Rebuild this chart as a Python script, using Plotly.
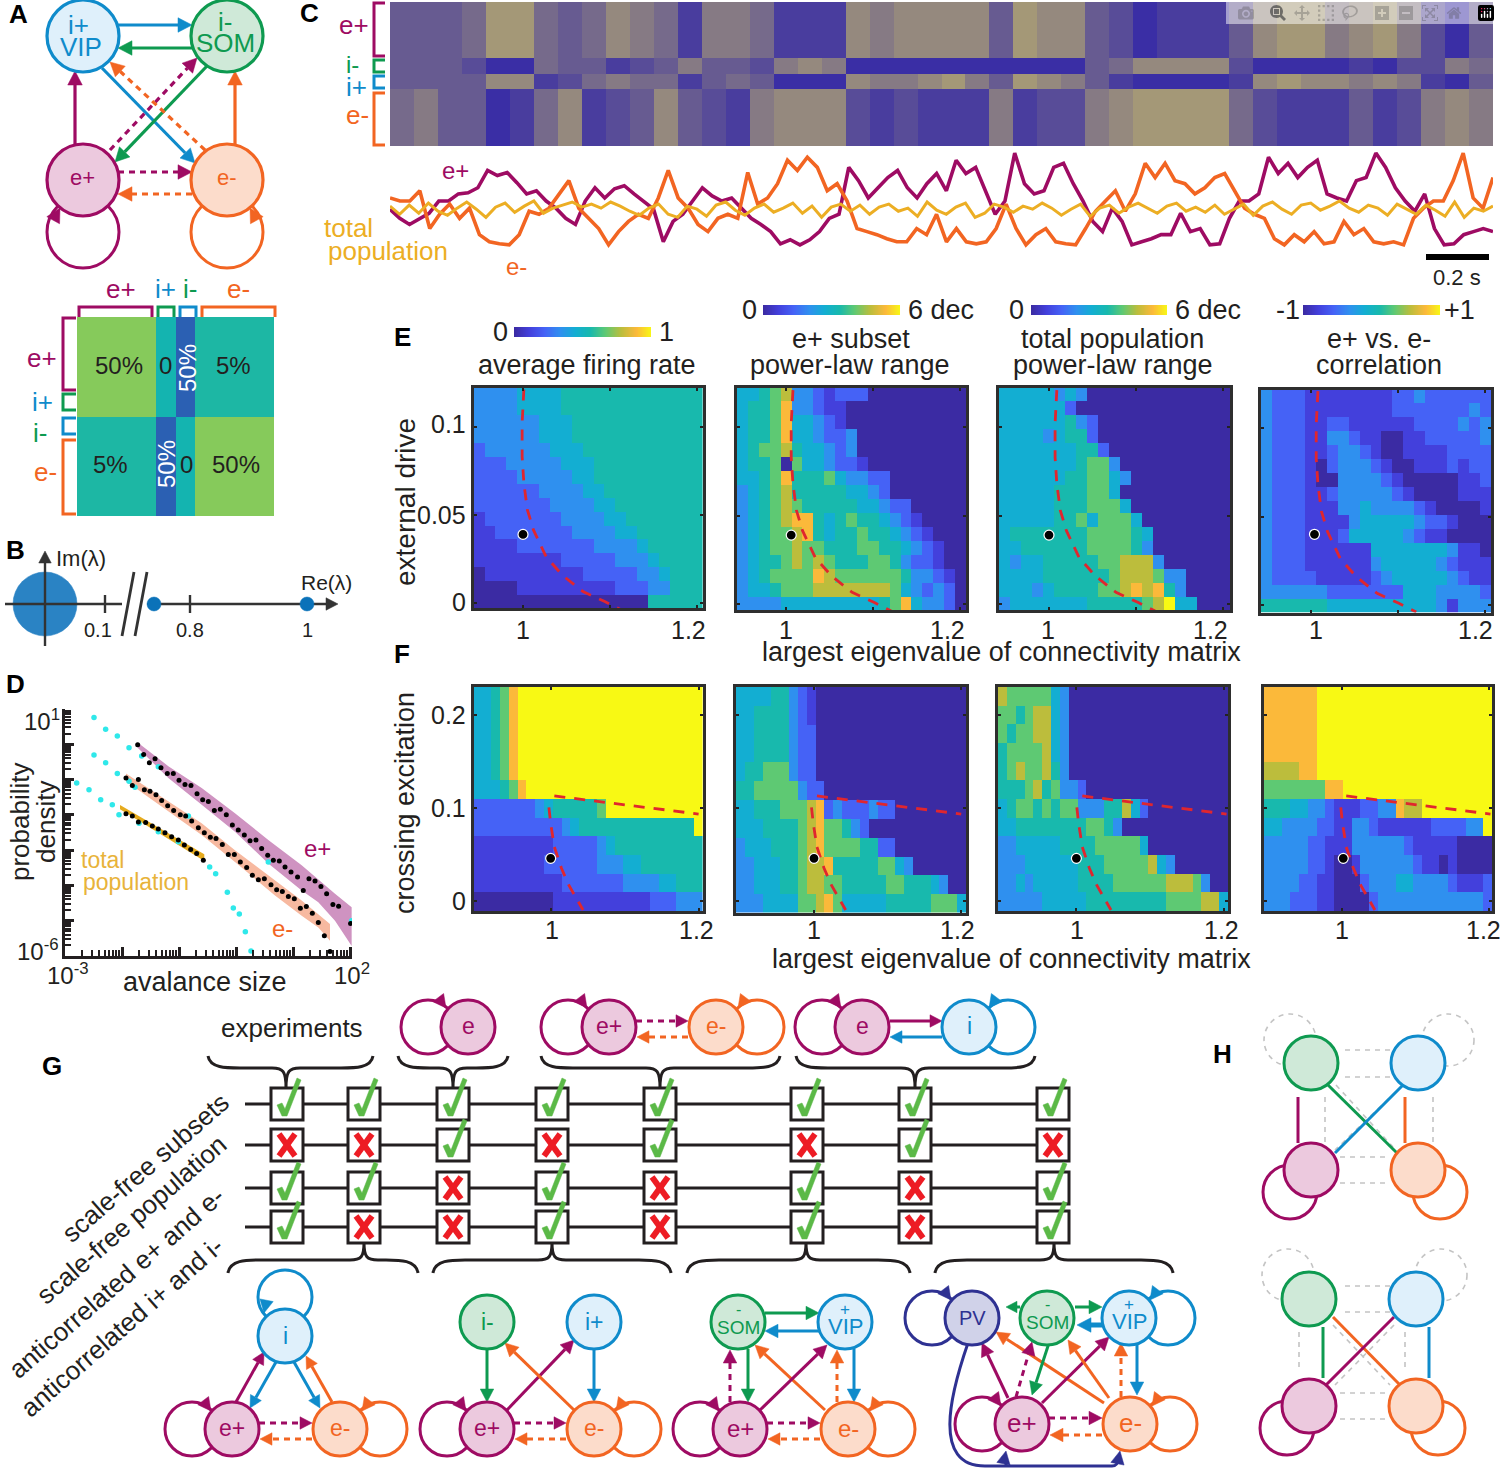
import numpy as np
import plotly.graph_objects as go

FONT = "Liberation Sans"
BLACK = "#231f20"
PURPLE, PURPLE_F = "#9e0b63", "#ecc9de"
ORANGE, ORANGE_F = "#f26522", "#fcdccb"
BLUE, BLUE_F = "#0f8bcb", "#dff0fb"
GREEN, GREEN_F = "#0e9a50", "#cfe9d8"
NAVY, NAVY_F = "#2e3192", "#d0d2e9"
GOLD = "#ecae24"
GREY = "#c4c4c4"

# one character per cell, levels 0-9 of PARULA, top row first
PARULA = ["#3b2ba3", "#4340dc", "#4562f6", "#2f90ef", "#13aed2",
          "#18b9ad", "#5ec973", "#bcbd3c", "#fbb93a", "#f8f914"]
CBAR_LEVELS = [0, 1, 2, 3, 4, 5, 6, 7, 8, 9]

E_RATE = ["33334444555", "33334444555", "333333444555", "333333444555",
          "2333333444555", "22233333444555", "222233333445", "2222223333445",
          "22222223333445", "12222222333344555", "11222222233334455",
          "1111222222233334555", "1111111122222333455", "0111111111222223345",
          "00001111111112223355", "0000000000000000555"]
E_SUBSET = ["445673321222", "45568332110", "4556844321", "45568443223",
            "45667544323", "455606443221", "44568555643322", "34567555554432",
            "3456765555544322", "34567885456554321", "345667854556554321",
            "3456676655566554321", "3455676765556653221", "345666687666666533210",
            "344566677777776432320", "333344444444456843320"]
E_TOTAL = ["44444343", "4444442", "444444532", "444434552", "4444444552",
           "44444445663", "444444556643", "44444555664", "444445556664",
           "4444455646664", "45555555666654", "44555555666653",
           "434455555667773", "44445555556777633", "44434555566787853",
           "344444445555567944"]
E_CORR = ["322211111111223222222", "322211111111222222232", "322211221111112222323",
          "322211332110011222223", "322211233210011112222", "322210233321001112122",
          "322210033332100000112", "322211233333210000111", "322211133433332100001",
          "322211113444443221000", "322211124444432110000", "322211111144444443110",
          "322211111134444432111", "322221111123444443211", "333333222222244433332",
          "555555444444444431333"]

F_RATE = ["44568", "44568", "44568", "44568", "44568", "444568",
          "222222234555556", "22222222223455555555555559",
          "11111111122222345555555555", "11111111222222333445555555",
          "11111111112222222333344555", "00000000011111111111222333"]
F_SUBSET = ["444455321", "445555321", "445555322", "445555322", "455666322",
            "5566666322", "445556667823222322", "444555567866532",
            "344455567866665522", "33444556778555556643",
            "334445567766555556655543", "33344446678644444555556664"]
F_TOTAL = ["76666643", "66567743", "65667743", "56666743", "56766753",
           "5556756332", "45665656633355742", "44555555556653",
           "33444445555666664", "33344444455566666743",
           "334344444555566666677763", "33333444445555555556666774"]
F_CORR = ["8888889", "8888889", "8888889", "8888889", "7777889", "666666688",
          "55544332111223387799999999", "44333322113321111112222339",
          "33333221113333332111110000", "33333221001333333211010000",
          "33332211000233344333321112", "33322211000023333333333332"]

# critical-curve samples (eigenvalue, drive) and the marked operating point
E_CURVE_X = [1.001, 0.999, 0.999, 1.001, 1.005, 1.012, 1.0265, 1.045, 1.069, 1.094, 1.114]
E_CURVE_Y = [0.121, 0.102, 0.083, 0.068, 0.053, 0.0415, 0.0264, 0.016, 0.0066, 0.001, -0.004]
E_DOT = [(1.0, 0.039), (1.006, 0.039), (1.0, 0.039), (1.004, 0.04)]
E_SHIFT = [0, 0.007, 0.008, 0.007]
F_LOW_X = [0.9966, 0.999, 1.004, 1.0137, 1.0235, 1.043]
F_LOW_Y = [0.1007, 0.0835, 0.058, 0.035, 0.017, -0.01]
F_UP_X = [1.004, 1.2]
F_UP_Y = [0.113, 0.0935]
F_DOT = [(0.999, 0.0457), (1.0, 0.0457), (1.0, 0.0457), (1.002, 0.0457)]
F_SHIFT = [0, 0.0, 0.004, 0.002]

# connection-matrix blocks in percent, negative marks the inhibitory strip
MATRIX = [[50, 0, -50, 5], [5, -50, 0, 50]]
MATRIX_EDGES = [0, 40, 50, 60, 100]

# raster density per 24 px time bin, 0 (silent) to 9
RASTER_EP = [3,3,3,4,7,7,4,3,4,6,5,4,1,5,5,4,1,1,1,6,5,6,6,6,6,3,7,6,6,3,2,0,1,1,1,3,6,7,7,5,6,7,5,2,0,3]
RASTER_IM = [3,3,3,2,0,0,4,3,3,1,2,3,5,3,3,2,5,6,5,0,0,0,0,0,0,0,0,0,0,3,4,6,6,6,6,2,0,0,0,0,1,0,2,2,5,4]
RASTER_IP = [3,3,3,3,6,6,1,2,4,5,4,4,1,3,4,3,0,0,0,6,5,5,6,7,5,3,7,6,5,3,1,0,0,0,0,1,6,7,6,6,5,6,5,1,0,3]
RASTER_EM = [4,5,3,3,0,1,4,6,1,2,3,6,3,2,1,5,6,6,6,2,1,2,1,1,1,5,1,2,2,5,6,7,7,7,7,4,2,1,1,1,3,1,2,5,6,5]
RASTER_EDGES = [0, 56, 72, 87, 144]

TRACE_EP = [2,-7,-13,-7,-2,10,10,17,18,23,40,35,38,28,17,20,10,3,-7,-13,10,23,13,22,25,17,10,2,-30,-10,-3,10,23,15,10,13,3,-7,-13,-20,-32,-28,-33,-28,-20,-7,-3,43,30,13,23,33,
            40,23,13,27,37,20,50,37,43,20,-3,10,57,27,17,20,43,47,27,10,-10,-20,3,-10,-33,-30,-27,-23,-23,-2,-20,-17,-33,-32,-7,10,10,17,53,37,47,33,43,50,17,13,10,30,33,57,43,23,10,0,17,-17,-33,-32,-23,-20,-17,-20]
TRACE_EM = [13,10,10,20,-17,-3,7,-7,3,-23,-30,-32,-33,-23,0,-3,3,17,30,3,-7,-17,-33,-20,-10,-3,-7,13,40,13,3,-13,-20,-7,-3,-7,38,7,13,27,50,40,53,43,20,27,10,-17,-20,-23,-27,-30,
            -30,-17,-23,-3,-30,-17,-30,-32,-30,-17,7,-17,-33,-23,-17,-30,-32,-33,-17,0,10,20,0,17,47,33,47,30,27,17,23,33,37,20,3,-3,-7,-27,-33,-23,-30,-20,-32,-30,-10,-23,-17,-30,-32,-30,-33,-7,3,10,10,30,57,13,3,33]
TRACE_TOTAL = [5,-3,6,-2,8,0,-4,3,9,2,-6,4,8,-1,5,10,-2,3,6,9,4,7,3,9,5,0,-4,3,7,-3,-6,5,2,-5,6,9,1,-4,3,7,-1,3,8,-2,5,-6,4,7,0,6,-3,4,
               7,0,3,-5,9,1,-3,4,8,-6,-2,7,4,-1,5,2,8,3,-4,2,7,-5,3,6,-2,4,8,3,-2,5,8,0,4,-1,6,-3,2,7,-4,5,9,2,-3,6,8,1,5,10,3,-1,6,3,-4,7,2,-3,6,1,-5,9,-6,3,0,5]

# log10 coordinates of the avalanche distributions
EP_X = [-1.725,-1.62,-1.52,-1.42,-1.316,-1.205,-1.10,-1.0,-.895,-.79,-.684,-.585,-.485,-.38,-.275,-.17,-.064,.04,.146,.246,.35,.45,.556,.655,.76,.86,.965,1.08,1.18,1.28,1.386,1.49,1.59,1.70,1.80,2.01]
EP_Y = [-.01,-.286,-.524,-.41,-.667,-.829,-.829,-1.019,-1.143,-1.171,-1.4,-1.571,-1.619,-1.876,-1.838,-2.0,-2.286,-2.429,-2.571,-2.733,-2.714,-2.952,-3.143,-3.286,-3.305,-3.476,-3.619,-3.762,-4.143,-3.81,-3.876,-4.029,-4.238,-4.543,-4.59,-5.076]
EM_X = [-1.93,-1.819,-1.713,-1.608,-1.509,-1.404,-1.304,-1.199,-1.094,-.977,-.883,-.778,-.661,-.556,-.45,-.351,-.24,-.135,-.029,.076,.187,.287,.392,.497,.614,.713,.813,.918,1.023,1.129,1.234,1.339,1.444,1.55,1.649]
EM_Y = [-.952,-1.171,-1.0,-1.286,-1.333,-1.429,-1.59,-1.743,-1.876,-2.0,-2.029,-2.171,-2.362,-2.505,-2.638,-2.667,-2.838,-3.124,-3.124,-3.333,-3.495,-3.714,-3.838,-3.81,-3.981,-4.124,-4.171,-4.314,-4.381,-4.648,-4.6,-4.79,-5.048,-5.429,-5.876]
TOT_X = [-1.93,-1.819,-1.713,-1.585,-1.468,-1.363,-1.246,-1.129,-1.012,-.906,-.795,-.69,-.573]
TOT_Y = [-1.971,-2.029,-2.2,-2.219,-2.314,-2.4,-2.505,-2.619,-2.714,-2.857,-2.981,-3.095,-3.286]
EP_BAND_X = [-1.725,-1.187,-.602,-.018,.567,1.152,1.737,2.029,2.029,1.737,1.444,1.152,.567,-.018,-.602,-1.187,-1.725]
EP_BAND_Y = [.048,-.62,-1.238,-1.952,-2.714,-3.429,-4.238,-4.619,-5.714,-5.0,-4.476,-4.143,-3.381,-2.476,-1.714,-.952,-.095]
EM_BAND_X = [-1.93,-1.187,-.602,-.018,.567,1.152,1.649,1.649,1.444,1.152,.684,-.018,-.602,-1.187,-1.93]
EM_BAND_Y = [-.829,-1.619,-2.238,-3.0,-3.714,-4.429,-5.095,-5.571,-5.19,-4.857,-4.286,-3.333,-2.571,-1.905,-1.048]
TOT_BAND_X = [-2.035,-.556,-.556,-2.035]
TOT_BAND_Y = [-1.724,-3.114,-3.305,-1.838]
CY1_X = [-2.491,-2.287,-2.082,-1.877,-1.655,-1.363,2.029]
CY1_Y = [.762,.429,.238,-.095,-.333,-.638,-5.0]
CY2_X = [-2.491,-2.287,-2.082,-1.877,-1.772,-.836,.567]
CY2_Y = [-.305,-.524,-.829,-1.048,-1.219,-2.029,-3.333]
CY3_X = [-2.795,-2.579,-2.374,-2.17,-2.053,-1.702,-1.363,-1.012,-.462,-.357,-.152,-.047,.058,.164,.263]
CY3_Y = [-1.095,-1.286,-1.571,-1.714,-2.0,-2.238,-2.476,-2.762,-3.476,-3.667,-4.19,-4.638,-4.81,-5.314,-5.857]

# experiment / model table, 1 = check, 0 = cross
TABLE_X = [287, 364, 453, 552, 660, 807, 915, 1053]
TABLE_Y = [1104, 1145, 1188, 1227]
TABLE = [[1, 1, 1, 1, 1, 1, 1, 1],
         [0, 0, 1, 0, 1, 0, 1, 0],
         [1, 1, 0, 1, 0, 1, 0, 1],
         [1, 0, 0, 1, 0, 1, 0, 1]]

fig = go.Figure()
layout = {}
shapes = []
notes = []
n_axes = [1]


def new_axes(l, r, t, b, xrange, yrange, **kw):
    n_axes[0] += 1
    n = n_axes[0]
    base = dict(showgrid=False, zeroline=False, showticklabels=False)
    layout[f"xaxis{n}"] = dict(domain=[l / 1500, r / 1500], range=xrange, anchor=f"y{n}", **base, **kw)
    layout[f"yaxis{n}"] = dict(domain=[1 - b / 1469, 1 - t / 1469], range=yrange, anchor=f"x{n}", **base, **kw)
    return f"x{n}", f"y{n}", n


def txt(text, x, y, size=26, color=BLACK, angle=0, anchor="center"):
    notes.append(dict(text=text, x=x, y=y, xref="x", yref="y", showarrow=False, textangle=angle,
                      xanchor=anchor, yanchor="middle", font=dict(size=size, color=color, family=FONT)))


def path(d, color, w=3, fill=None, dash=None):
    line = dict(color=color, width=w)
    if dash:
        line["dash"] = dash
    shapes.append(dict(type="path", path=d, xref="x", yref="y", line=line,
                       fillcolor=fill if fill else "rgba(0,0,0,0)"))


def seg(x0, y0, x1, y1, color, w=3, dash=None):
    path(f"M{x0},{y0} L{x1},{y1}", color, w, dash=dash)


def circle(cx, cy, r, color, fill=None, w=3, dash=None):
    line = dict(color=color, width=w)
    if dash:
        line["dash"] = dash
    shapes.append(dict(type="circle", xref="x", yref="y", x0=cx - r, x1=cx + r, y0=cy - r, y1=cy + r,
                       line=line, fillcolor=fill if fill else "rgba(0,0,0,0)"))


def head(xt, yt, ux, uy, color, size=13):
    m = (ux ** 2 + uy ** 2) ** 0.5
    ux, uy = ux / m, uy / m
    bx, by = xt - ux * size, yt - uy * size
    hw = size * 0.52
    path(f"M{xt},{yt} L{bx - uy * hw},{by + ux * hw} L{bx + uy * hw},{by - ux * hw} Z", color, 0.5, fill=color)


def arrow(x0, y0, x1, y1, color, dash=False, w=3, size=13):
    m = ((x1 - x0) ** 2 + (y1 - y0) ** 2) ** 0.5
    bx, by = x1 - (x1 - x0) / m * size, y1 - (y1 - y0) / m * size
    seg(x0, y0, bx, by, color, w, "6px,5px" if dash else None)
    head(x1, y1, x1 - x0, y1 - y0, color, size)


def bracket(d, color):
    path(d, color, 3)


def brace(x0, xm, x1, y_end, y_mid, y_stem):
    s = 1 if y_stem > y_end else -1
    path(f"M{x0},{y_end} C{x0 + 2},{y_mid} {x0 + 18},{y_mid} {x0 + 32},{y_mid} L{xm - 14},{y_mid} "
         f"C{xm - 3},{y_mid} {xm},{y_mid + s * 3} {xm},{y_stem} C{xm},{y_mid + s * 3} {xm + 3},{y_mid} {xm + 14},{y_mid} "
         f"L{x1 - 32},{y_mid} C{x1 - 18},{y_mid} {x1 - 2},{y_mid} {x1},{y_end}", BLACK, 3)


def node(cx, cy, color, fill, r=27, w=3):
    circle(cx, cy, r, color, fill, w)


def loop(cx, cy, side, color, r=27):
    # outline behind the node, head added after the node is drawn
    circle(cx, cy, r, color)


# ---- overlay axis in page pixels for the schematics
layout["xaxis"] = dict(domain=[0, 1], range=[0, 1500], visible=False)
layout["yaxis"] = dict(domain=[0, 1], range=[1469, 0], visible=False)
fig.add_trace(go.Scatter(x=[0, 1500], y=[0, 1469], mode="markers", marker=dict(opacity=0), xaxis="x", yaxis="y"))

scale = [[i / 9, c] for i, c in enumerate(PARULA)]


def cells(rows, ncol, fill):
    return [[int(c) for c in r.ljust(ncol, fill)] for r in rows]


def panel(box, x_one, y_zero, sx, sy, rows, ncol, fill, xticks, yticks, curves, dot):
    l, r, t, b = box
    xr = [1 + (l - x_one) / sx, 1 + (r - x_one) / sx]
    yr = [(y_zero - b) / sy, (y_zero - t) / sy]
    xa, ya, n = new_axes(l, r, t, b, xr, yr, showline=True, linecolor="#2e2e2e", linewidth=3, mirror="ticks",
                         ticks="inside", ticklen=3, tickwidth=2, tickcolor="#222")
    layout[f"xaxis{n}"]["tickvals"] = xticks
    layout[f"yaxis{n}"]["tickvals"] = yticks
    z = cells(rows, ncol, fill)[::-1]
    dx = (xr[1] - xr[0]) / ncol
    dy = (yr[1] - yr[0]) / len(rows)
    fig.add_trace(go.Heatmap(z=z, x0=xr[0] + dx / 2, dx=dx, y0=yr[0] + dy / 2, dy=dy, zmin=0, zmax=9,
                             colorscale=scale, showscale=False, xaxis=xa, yaxis=ya, hoverinfo="skip"))
    for cx, cy in curves:
        fig.add_trace(go.Scatter(x=cx, y=cy, mode="lines", xaxis=xa, yaxis=ya,
                                 line=dict(color="#e0262e", width=2.8, dash="11px,9px")))
    fig.add_trace(go.Scatter(x=[dot[0]], y=[dot[1]], mode="markers", xaxis=xa, yaxis=ya,
                             marker=dict(size=10, color="black", line=dict(color="white", width=1.2))))


E_BOX = [(473.6, 703, 387.5, 608), (737, 966, 387.5, 610), (999, 1230, 387.5, 610), (1261, 1491, 389.5, 612.5)]
E_ONE = [523, 786, 1049, 1311]
E_ZERO = [603.3, 604, 604, 605]
for i, rows in enumerate([E_RATE, E_SUBSET, E_TOTAL, E_CORR]):
    fill = "5" if i == 0 else "0"
    curve = ([x + E_SHIFT[i] for x in E_CURVE_X], E_CURVE_Y)
    panel(E_BOX[i], E_ONE[i], E_ZERO[i], 870, 1767, rows, 21, fill, [1, 1.1, 1.2], [0, 0.05, 0.1], [curve], E_DOT[i])

F_BOX = [(473.6, 703, 687, 911), (736, 966, 687, 912.5), (998, 1228, 687, 911), (1264, 1492, 687, 911)]
F_ONE = [551.4, 814, 1076.4, 1341.8]
for i, rows in enumerate([F_RATE, F_SUBSET, F_TOTAL, F_CORR]):
    fill = "9" if i in (0, 3) else "0"
    low = ([x + F_SHIFT[i] for x in F_LOW_X], F_LOW_Y)
    up = ([x + F_SHIFT[i] for x in F_UP_X], F_UP_Y)
    panel(F_BOX[i], F_ONE[i], 900.7, 736, 927, rows, 26, fill, [1, 1.2], [0, 0.1, 0.2], [low, up], F_DOT[i])

# colour bars
for l, r, t, b in [(514, 651, 327, 337), (763, 900, 305, 315), (1031, 1167, 305, 315), (1303, 1440, 305, 315)]:
    xa, ya, n = new_axes(l, r, t, b, [0, 9], [0, 1], visible=False)
    fig.add_trace(go.Heatmap(z=[CBAR_LEVELS, CBAR_LEVELS], x=CBAR_LEVELS, y=[0, 1], zmin=0, zmax=9, colorscale=scale,
                             showscale=False, zsmooth="best", xaxis=xa, yaxis=ya, hoverinfo="skip"))

# connection matrix
xa, ya, n = new_axes(77, 274, 317, 516, [0, 100], [2, 0], visible=False)
fig.add_trace(go.Heatmap(z=MATRIX, x=MATRIX_EDGES, y=[0, 1, 2], zmin=-50, zmax=50, showscale=False, xaxis=xa, yaxis=ya,
                         colorscale=[[0, "#2b60b3"], [0.5, "#14b4b0"], [0.55, "#1db7a4"], [1, "#86ca5b"]], hoverinfo="skip"))

# raster
xa, ya, n = new_axes(390, 1493, 2, 146, [0, 46], [144, 0], visible=False)
fig.add_trace(go.Heatmap(z=[RASTER_EP, RASTER_IM, RASTER_IP, RASTER_EM], x=list(range(47)), y=RASTER_EDGES,
                         zmin=0, zmax=9, showscale=False, xaxis=xa, yaxis=ya, hoverinfo="skip",
                         colorscale=[[0, "#3a2ea5"], [1, "#c2b66a"]]))

# population traces
xa, ya, n = new_axes(390, 1493, 148, 252, [0, 3.56], [-40, 62], visible=False)
for series, colour, w in [(TRACE_EP, PURPLE, 3.6), (TRACE_EM, ORANGE, 3.6), (TRACE_TOTAL, GOLD, 3)]:
    fig.add_trace(go.Scatter(x=np.linspace(0, 3.56, len(series)), y=series, mode="lines", xaxis=xa, yaxis=ya,
                             line=dict(color=colour, width=w)))

# avalanche distributions
xa, ya, n = new_axes(65, 352, 709, 956, [-3, 2.035], [-6, 1], type="log", showline=True, linecolor=BLACK, linewidth=3,
                     ticks="inside", ticklen=9, tickwidth=2.5, tickcolor=BLACK, dtick=1,
                     minor=dict(ticks="inside", ticklen=6, tickwidth=1.6, tickcolor=BLACK, dtick="D1"))
for bx, by, colour in [(EP_BAND_X, EP_BAND_Y, "#cf93c1"), (EM_BAND_X, EM_BAND_Y, "#f7b9a0"), (TOT_BAND_X, TOT_BAND_Y, "#e6ab1e")]:
    fig.add_trace(go.Scatter(x=10.0 ** np.array(bx), y=10.0 ** np.array(by), mode="lines", fill="toself", fillcolor=colour,
                             line=dict(width=0), xaxis=xa, yaxis=ya))
for cx, cy in [(CY1_X, CY1_Y), (CY2_X, CY2_Y), (CY3_X, CY3_Y)]:
    fig.add_trace(go.Scatter(x=10.0 ** np.array(cx), y=10.0 ** np.array(cy), mode="markers", xaxis=xa, yaxis=ya,
                             marker=dict(size=5.5, color="#2fe8ea")))
for px, py in [(EP_X, EP_Y), (EM_X, EM_Y), (TOT_X, TOT_Y)]:
    fig.add_trace(go.Scatter(x=10.0 ** np.array(px), y=10.0 ** np.array(py), mode="markers", xaxis=xa, yaxis=ya,
                             marker=dict(size=5, color="black")))

# ---- A: network
loop(83, 232, -1, PURPLE, 36)
loop(227, 232, 1, ORANGE, 36)
arrow(118, 25, 192, 25, BLUE, w=3.2, size=14)
arrow(192, 48, 118, 48, GREEN, w=3.2, size=14)
arrow(75, 146, 75, 71, PURPLE, w=3.2, size=14)
arrow(235, 146, 235, 71, ORANGE, w=3.2, size=14)
arrow(102, 68, 195, 163, BLUE, w=3.2, size=14)
arrow(207, 66, 115, 162, GREEN, w=3.2, size=14)
arrow(110, 150, 197, 58, PURPLE, True, 3.2, 14)
arrow(205, 150, 110, 62, ORANGE, True, 3.2, 14)
arrow(118, 172, 192, 172, PURPLE, True, 3.2, 14)
arrow(192, 194, 118, 194, ORANGE, True, 3.2, 14)
node(83, 36, BLUE, BLUE_F, 36, 3.2)
node(227, 36, GREEN, GREEN_F, 36, 3.2)
node(83, 180, PURPLE, PURPLE_F, 36, 3.2)
node(227, 180, ORANGE, ORANGE_F, 36, 3.2)
head(60, 208, 0.5, -0.9, PURPLE, 14)
head(250, 208, -0.5, -0.9, ORANGE, 14)
txt("i+", 78, 25, 26, BLUE)
txt("VIP", 81, 47, 26, BLUE)
txt("i-", 225, 22, 26, GREEN)
txt("SOM", 225, 43, 26, GREEN)
txt("e+", 82, 177, 22, PURPLE)
txt("e-", 227, 177, 22, ORANGE)

# matrix brackets and labels
bracket("M79,317 V307 H152 V317", PURPLE)
bracket("M158,317 V307 H174 V317", GREEN)
bracket("M180,317 V307 H196 V317", BLUE)
bracket("M202,317 V307 H275 V317", ORANGE)
bracket("M76,318 H63 V390 H76", PURPLE)
bracket("M76,394 H63 V410 H76", GREEN)
bracket("M76,418 H63 V434 H76", BLUE)
bracket("M76,440 H63 V514 H76", ORANGE)
for text, x, y, c in [("e+", 121, 289, PURPLE), ("i+", 165, 289, BLUE), ("i-", 190, 289, GREEN), ("e-", 238, 289, ORANGE),
                      ("e+", 42, 358, PURPLE), ("i+", 42, 402, BLUE), ("i-", 40, 433, GREEN), ("e-", 45, 472, ORANGE)]:
    txt(text, x, y, 26, c)
for text, x, y in [("50%", 119, 365), ("0", 165, 365), ("5%", 233, 365), ("5%", 110, 464), ("0", 186, 464), ("50%", 236, 464)]:
    txt(text, x, y, 24)
txt("50%", 187, 368, 24, "white", -90)
txt("50%", 166, 464, 24, "white", -90)

# ---- B: spectrum
circle(45, 604, 32, "#2a83c4", "#2a83c4", 0.5)
seg(5, 604, 122, 604, "#333333", 2.4)
seg(147, 604, 330, 604, "#333333", 2.4)
head(338, 604, 1, 0, "#333333", 12)
seg(45, 646, 45, 560, "#333333", 2.4)
head(45, 551, 0, -1, "#333333", 12)
seg(105, 595, 105, 613, "#333333", 2.4)
seg(190, 595, 190, 613, "#333333", 2.4)
seg(122, 636, 134, 572, "#333333", 2.8)
seg(135, 636, 147, 572, "#333333", 2.8)
circle(154, 604, 7, "#0b72b9", "#0b72b9", 0.5)
circle(307, 604, 7, "#0b72b9", "#0b72b9", 0.5)
txt("Im(λ)", 81, 558, 22)
txt("Re(λ)", 326, 582, 21)
txt("0.1", 98, 630, 20)
txt("0.8", 190, 630, 20)
txt("1", 307, 630, 20)

# ---- C labels
bracket("M385,3 H374 V56 H385", PURPLE)
bracket("M385,60 H374 V72 H385", GREEN)
bracket("M385,76 H374 V88 H385", BLUE)
bracket("M385,93 H374 V145 H385", ORANGE)
txt("e+", 354, 25, 26, PURPLE)
txt("i-", 352, 64, 24, GREEN)
txt("i+", 356, 87, 26, BLUE)
txt("e-", 357, 115, 26, ORANGE)
txt("e+", 455, 170, 24, PURPLE)
txt("total", 348, 228, 26, GOLD)
txt("population", 388, 251, 26, GOLD)
txt("e-", 516, 266, 24, ORANGE)
shapes.append(dict(type="rect", xref="x", yref="y", x0=1426, x1=1489, y0=254, y1=260, fillcolor="black", line=dict(width=0)))
txt("0.2 s", 1457, 277, 22)

# ---- D labels
txt("10<sup>1</sup>", 42, 720, 24)
txt("10<sup>-6</sup>", 38, 950, 24)
txt("10<sup>-3</sup>", 68, 974, 24)
txt("10<sup>2</sup>", 352, 974, 24)
txt("avalance size", 205, 982, 27)
txt("probability", 20, 822, 26, BLACK, -90)
txt("density", 46, 822, 26, BLACK, -90)
txt("total", 102, 860, 23, "#e8b33a")
txt("population", 136, 882, 23, "#e8b33a")
txt("e+", 317, 848, 24, PURPLE)
txt("e-", 282, 928, 24, ORANGE)

# ---- E/F text
for text, x, y in [("average firing rate", 587, 365), ("e+ subset", 851, 339), ("power-law range", 850, 365),
                   ("total population", 1112, 339), ("power-law range", 1113, 365), ("e+ vs. e-", 1379, 339),
                   ("correlation", 1379, 365), ("0", 500, 332), ("1", 666, 332), ("0", 749, 310), ("6 dec", 941, 310),
                   ("0", 1016, 310), ("6 dec", 1208, 310), ("-1", 1288, 310), ("+1", 1459, 310),
                   ("largest eigenvalue of connectivity matrix", 1001, 652),
                   ("largest eigenvalue of connectivity matrix", 1011, 959)]:
    txt(text, x, y, 27)
txt("external drive", 405, 502, 28, BLACK, -90)
txt("crossing excitation", 405, 803, 27, BLACK, -90)
for text, y in [("0.1", 424), ("0.05", 515), ("0", 602), ("0.2", 715), ("0.1", 808), ("0", 901)]:
    txt(text, 468, y, 25, BLACK, 0, "right")
for x in [(523, 688), (786, 947), (1048, 1210), (1316, 1475)]:
    txt("1", x[0], 630, 25)
    txt("1.2", x[1], 630, 25)
for x in [(552, 696), (814, 957), (1077, 1221), (1342, 1483)]:
    txt("1", x[0], 930, 25)
    txt("1.2", x[1], 930, 25)

# panel letters
for text, x, y in [("A", 18, 14), ("C", 309, 13), ("B", 15, 550), ("D", 15, 684), ("E", 402, 337), ("F", 402, 654),
                   ("G", 52, 1066), ("H", 1222, 1054)]:
    notes.append(dict(text=f"<b>{text}</b>", x=x, y=y, xref="x", yref="y", showarrow=False,
                      font=dict(size=26, color="black", family=FONT)))

# ---- G: table
for y in TABLE_Y:
    seg(245, y, 1053, y, BLACK, 3)
for i, y in enumerate(TABLE_Y):
    for j, x in enumerate(TABLE_X):
        shapes.append(dict(type="rect", xref="x", yref="y", x0=x - 16, x1=x + 16, y0=y - 16, y1=y + 16,
                           fillcolor="white", line=dict(color=BLACK, width=3)))
        if TABLE[i][j]:
            path(f"M{x - 10},{y + 1} L{x - 5},{y - 1} L{x - 2},{y + 5} L{x + 10},{y - 26} L{x + 14},{y - 24} L{x},{y + 12} L{x - 5},{y + 12} Z",
                 "#5bb947", 0.5, fill="#5bb947")
        else:
            seg(x - 8, y - 11, x + 8, y + 11, "#ed1c24", 6)
            seg(x + 8, y - 11, x - 8, y + 11, "#ed1c24", 6)
txt("experiments", 292, 1028, 26)
txt("scale-free subsets", 145, 1168, 26, BLACK, -41)
txt("scale-free population", 131, 1220, 26, BLACK, -41)
txt("anticorrelated e+ and e-", 116, 1283, 26, BLACK, -41)
txt("anticorrelated i+ and i-", 122, 1327, 26, BLACK, -41)
brace(208, 286, 373, 1056, 1068, 1088)
brace(398, 453, 508, 1056, 1068, 1088)
brace(541, 660, 780, 1056, 1068, 1088)
brace(796, 915, 1035, 1056, 1068, 1088)
brace(228, 364, 418, 1273, 1260, 1243)
brace(433, 552, 671, 1273, 1260, 1243)
brace(687, 806, 910, 1273, 1260, 1243)
brace(935, 1054, 1173, 1273, 1260, 1243)

LD = (0.6, 0.8)
RD = (-0.6, 0.8)


def e_pair(xp, xm, y, xp_loop, xm_loop, dy=0):
    loop(xp_loop, y, -1, PURPLE)
    loop(xm_loop, y, 1, ORANGE)
    arrow(xp + 27, y - 6 + dy, xm - 28, y - 6 + dy, PURPLE, True, 3, 12)
    arrow(xm - 28, y + 10 + dy, xp + 28, y + 10 + dy, ORANGE, True, 3, 12)


# top three models
loop(428, 1027, -1, PURPLE)
node(468, 1027, PURPLE, PURPLE_F)
head(446, 1008, *LD, PURPLE, 13)
txt("e", 468, 1026, 23, PURPLE)

e_pair(609, 716, 1027, 568, 757)
node(609, 1027, PURPLE, PURPLE_F)
node(716, 1027, ORANGE, ORANGE_F)
head(587, 1008, *LD, PURPLE, 13)
head(738, 1008, *RD, ORANGE, 13)
txt("e+", 609, 1026, 23, PURPLE)
txt("e-", 716, 1026, 23, ORANGE)

loop(822, 1027, -1, PURPLE)
loop(1008, 1027, 1, BLUE)
arrow(890, 1021, 942, 1021, PURPLE, False, 3, 12)
arrow(942, 1037, 890, 1037, BLUE, False, 3, 12)
node(862, 1027, PURPLE, PURPLE_F)
node(969, 1027, BLUE, BLUE_F)
head(841, 1008, *LD, PURPLE, 13)
head(989, 1008, *RD, BLUE, 13)
txt("e", 862, 1026, 23, PURPLE)
txt("i", 969, 1026, 23, BLUE)

# bottom model 1
circle(285, 1297, 27, BLUE)
e_pair(232, 340, 1429, 192, 380)
arrow(236, 1402, 264, 1352, PURPLE, False, 3, 12)
arrow(276, 1362, 250, 1408, BLUE, False, 3, 12)
arrow(294, 1362, 320, 1408, BLUE, False, 3, 12)
arrow(332, 1402, 306, 1356, ORANGE, False, 3, 12)
node(285, 1336, BLUE, BLUE_F)
node(232, 1429, PURPLE, PURPLE_F)
node(340, 1429, ORANGE, ORANGE_F)
head(264, 1313, -0.2, 1, BLUE, 13)
head(211, 1411, *LD, PURPLE, 13)
head(362, 1411, *RD, ORANGE, 13)
txt("i", 285, 1336, 23, BLUE)
txt("e+", 232, 1428, 23, PURPLE)
txt("e-", 340, 1428, 23, ORANGE)

# bottom model 2
e_pair(487, 594, 1429, 447, 634)
arrow(487, 1349, 487, 1402, GREEN, False, 3, 13)
arrow(594, 1349, 594, 1402, BLUE, False, 3, 13)
arrow(507, 1410, 574, 1340, PURPLE, False, 3, 13)
arrow(574, 1410, 505, 1343, ORANGE, False, 3, 13)
node(487, 1322, GREEN, GREEN_F)
node(594, 1322, BLUE, BLUE_F)
node(487, 1429, PURPLE, PURPLE_F)
node(594, 1429, ORANGE, ORANGE_F)
head(466, 1411, *LD, PURPLE, 13)
head(616, 1411, *RD, ORANGE, 13)
txt("i-", 487, 1322, 23, GREEN)
txt("i+", 594, 1322, 23, BLUE)
txt("e+", 487, 1428, 23, PURPLE)
txt("e-", 594, 1428, 23, ORANGE)

# bottom model 3
e_pair(740, 848, 1429, 700, 888)
arrow(765, 1313, 819, 1313, GREEN, False, 3, 13)
arrow(819, 1331, 765, 1331, BLUE, False, 3, 13)
arrow(730, 1402, 730, 1350, PURPLE, True, 3, 13)
arrow(748, 1349, 748, 1402, GREEN, False, 3, 13)
arrow(825, 1410, 755, 1345, ORANGE, False, 3, 13)
arrow(760, 1410, 827, 1345, PURPLE, False, 3, 13)
arrow(837, 1402, 837, 1350, ORANGE, True, 3, 13)
arrow(854, 1349, 854, 1402, BLUE, False, 3, 13)
node(738, 1322, GREEN, GREEN_F)
node(845, 1322, BLUE, BLUE_F)
node(740, 1429, PURPLE, PURPLE_F)
node(848, 1429, ORANGE, ORANGE_F)
head(719, 1411, *LD, PURPLE, 13)
head(870, 1411, *RD, ORANGE, 13)
txt("-", 738, 1309, 16, GREEN)
txt("SOM", 738, 1327, 19, GREEN)
txt("+", 845, 1309, 17, BLUE)
txt("VIP", 845, 1326, 22, BLUE)
txt("e+", 740, 1428, 24, PURPLE)
txt("e-", 848, 1428, 24, ORANGE)

# bottom model 4
circle(932, 1318, 27, NAVY)
circle(1168, 1318, 27, BLUE)
circle(982, 1424, 27, PURPLE)
circle(1170, 1424, 27, ORANGE)
path("M968,1343 C950,1395 932,1466 985,1466 L1112,1466 C1116,1466 1118,1464 1119,1458", NAVY, 3)
seg(1006, 1466, 1006, 1458, NAVY, 3)
arrow(1020, 1307, 1006, 1307, GREEN, False, 3, 11)
arrow(1075, 1307, 1102, 1307, GREEN, False, 3, 13)
arrow(1104, 1325, 1077, 1325, BLUE, False, 5, 14)
arrow(1008, 1398, 982, 1343, PURPLE, False, 3, 13)
arrow(1104, 1403, 996, 1332, ORANGE, False, 3, 13)
arrow(1016, 1397, 1032, 1342, PURPLE, True, 3, 13)
arrow(1049, 1343, 1032, 1395, GREEN, False, 3, 13)
arrow(1042, 1403, 1109, 1337, PURPLE, False, 3, 13)
arrow(1109, 1398, 1068, 1340, ORANGE, False, 3, 13)
arrow(1121, 1397, 1121, 1343, ORANGE, True, 3, 13)
arrow(1137, 1343, 1137, 1395, BLUE, False, 3, 13)
arrow(1049, 1418, 1102, 1418, PURPLE, True, 3, 13)
arrow(1102, 1435, 1050, 1435, ORANGE, True, 3, 13)
node(972, 1318, NAVY, NAVY_F)
node(1047, 1318, GREEN, GREEN_F)
node(1129, 1318, BLUE, BLUE_F)
node(1022, 1424, PURPLE, PURPLE_F)
node(1130, 1424, ORANGE, ORANGE_F)
head(951, 1300, *LD, NAVY, 13)
head(1150, 1300, *RD, BLUE, 13)
head(1001, 1406, *LD, PURPLE, 13)
head(1152, 1406, *RD, ORANGE, 13)
head(1006, 1451, 0.2, -1, NAVY, 13)
head(1120, 1451, 0.2, -1, NAVY, 13)
txt("PV", 972, 1318, 20, NAVY)
txt("-", 1047, 1304, 16, GREEN)
txt("SOM", 1047, 1322, 19, GREEN)
txt("+", 1129, 1304, 17, BLUE)
txt("VIP", 1129, 1321, 22, BLUE)
txt("e+", 1022, 1423, 26, PURPLE)
txt("e-", 1130, 1423, 26, ORANGE)

# ---- H
HDASH = "5px,5px"
for x0, y0, x1, y1 in [(1345, 1050, 1390, 1050), (1345, 1077, 1390, 1077), (1340, 1157, 1390, 1157), (1340, 1183, 1390, 1183),
                       (1325, 1097, 1325, 1143), (1433, 1097, 1433, 1143), (1336, 1085, 1393, 1147), (1403, 1085, 1335, 1150)]:
    seg(x0, y0, x1, y1, GREY, 1.6, HDASH)
circle(1290, 1040, 26, GREY, None, 1.6, HDASH)
circle(1448, 1040, 26, GREY, None, 1.6, HDASH)
circle(1290, 1192, 27, PURPLE)
circle(1440, 1192, 27, ORANGE)
seg(1298, 1097, 1298, 1143, PURPLE)
seg(1405, 1097, 1405, 1143, ORANGE)
seg(1328, 1085, 1397, 1153, GREEN)
seg(1403, 1085, 1335, 1153, BLUE)
node(1311, 1063, GREEN, GREEN_F)
node(1418, 1063, BLUE, BLUE_F)
node(1311, 1170, PURPLE, PURPLE_F)
node(1418, 1170, ORANGE, ORANGE_F)

for x0, y0, x1, y1 in [(1345, 1286, 1390, 1286), (1345, 1312, 1390, 1312), (1340, 1393, 1390, 1393), (1340, 1419, 1390, 1419),
                       (1299, 1332, 1299, 1372), (1405, 1332, 1405, 1372), (1333, 1325, 1390, 1385), (1394, 1325, 1335, 1385)]:
    seg(x0, y0, x1, y1, GREY, 1.6, HDASH)
circle(1288, 1275, 26, GREY, None, 1.6, HDASH)
circle(1441, 1275, 26, GREY, None, 1.6, HDASH)
circle(1287, 1428, 27, PURPLE)
circle(1438, 1428, 27, ORANGE)
seg(1323, 1327, 1323, 1378, GREEN)
seg(1429, 1327, 1429, 1378, BLUE)
seg(1333, 1317, 1400, 1385, ORANGE)
seg(1394, 1317, 1326, 1385, PURPLE)
node(1309, 1299, GREEN, GREEN_F)
node(1416, 1299, BLUE, BLUE_F)
node(1309, 1406, PURPLE, PURPLE_F)
node(1416, 1406, ORANGE, ORANGE_F)

fig.update_layout(width=1500, height=1469, autosize=False, margin=dict(l=0, r=0, t=0, b=0), showlegend=False,
                  paper_bgcolor="white", plot_bgcolor="rgba(0,0,0,0)", hovermode=False,
                  font=dict(family=FONT), shapes=shapes, annotations=notes, **layout)
fig.write_html("out.html", post_script="document.body.style.margin='0';")
